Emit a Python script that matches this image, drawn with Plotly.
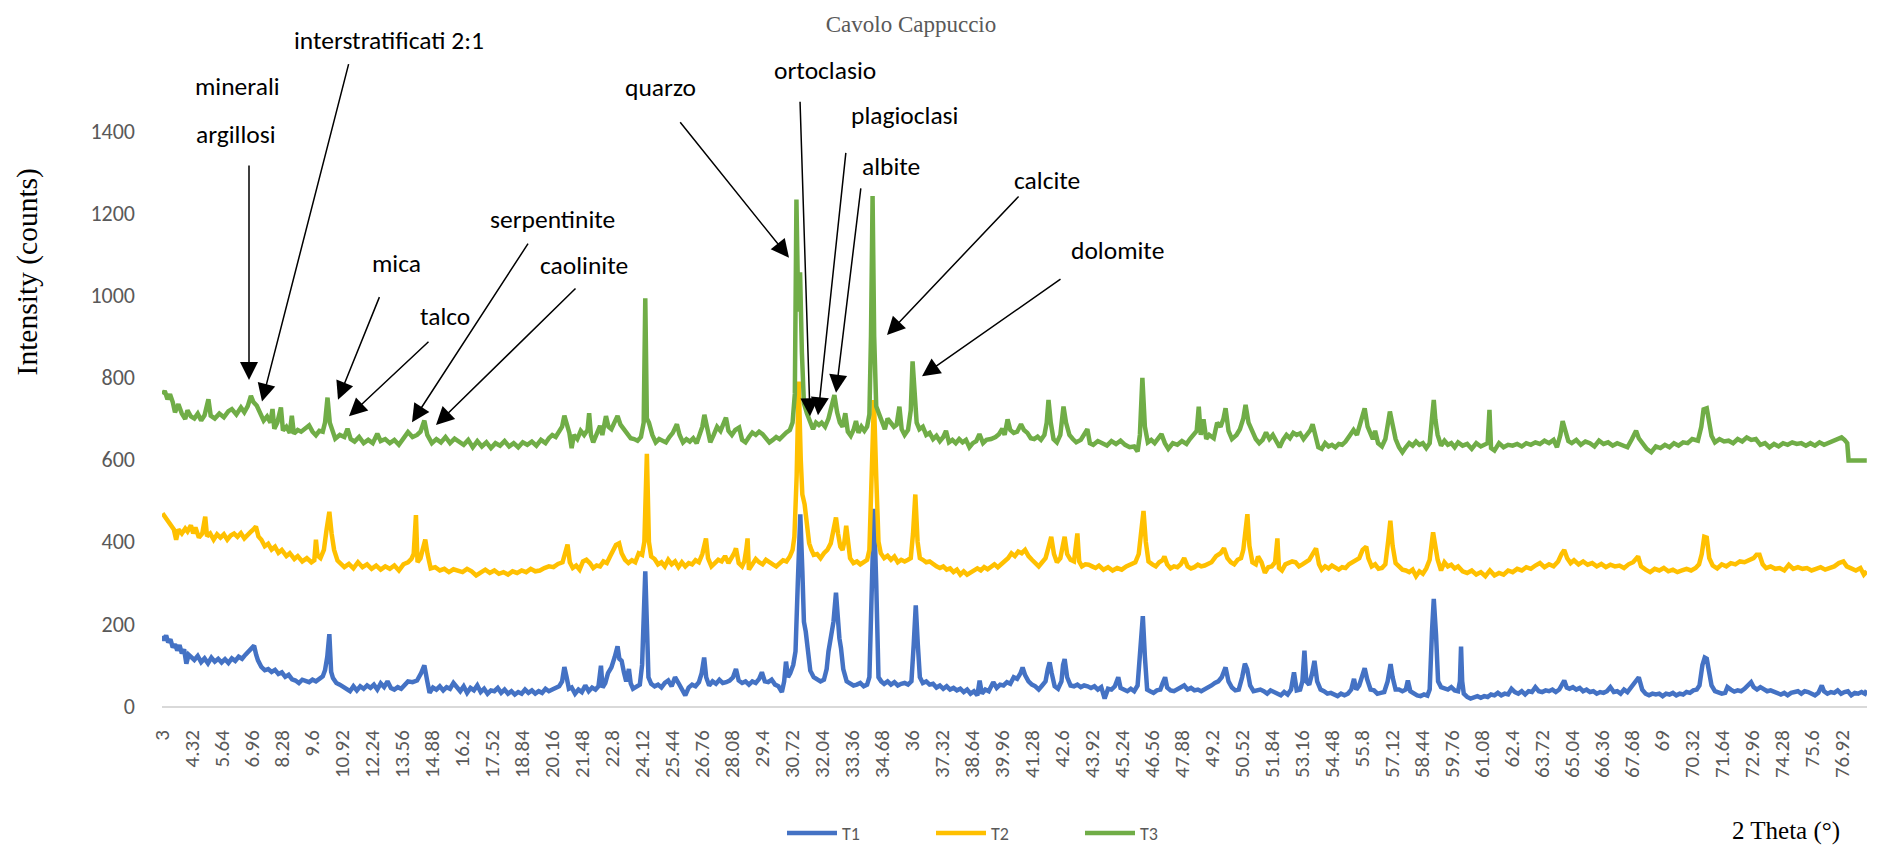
import plotly.graph_objects as go

# ---------------- data (2 Theta [deg], counts) ----------------
T1_points = [
(3.00,171),(3.08,160),(3.16,172),(3.25,155),(3.35,162),(3.45,143),(3.55,150),(3.65,135),(3.75,148),(3.85,128),
(3.95,138),(4.05,103),(4.15,125),(4.25,119),(4.40,112),(4.55,122),(4.70,107),(4.85,116),(5.00,104),(5.15,118),
(5.30,108),(5.45,115),(5.60,106),(5.75,114),(5.90,105),(6.05,116),(6.20,110),(6.35,120),(6.50,115),(6.65,125),
(6.80,135),(6.92,140),(7.03,147),(7.12,125),(7.20,111),(7.35,95),(7.50,87),(7.65,90),(7.80,83),(7.95,88),
(8.10,78),(8.25,82),(8.40,71),(8.55,76),(8.70,65),(8.85,62),(9.00,56),(9.15,64),(9.30,60),(9.45,58),
(9.60,64),(9.75,60),(9.90,66),(10.05,72),(10.15,87),(10.25,120),(10.34,175),(10.42,83),(10.50,68),(10.65,56),
(10.80,52),(10.95,46),(11.10,40),(11.25,36),(11.40,48),(11.55,38),(11.70,48),(11.85,42),(12.00,50),(12.15,44),
(12.30,52),(12.45,40),(12.60,55),(12.75,46),(12.90,60),(13.05,44),(13.20,40),(13.35,46),(13.50,42),(13.65,50),
(13.80,60),(14.00,58),(14.20,62),(14.38,80),(14.52,99),(14.65,60),(14.75,32),(14.90,45),(15.05,40),(15.20,48),
(15.35,38),(15.50,46),(15.65,42),(15.80,56),(15.95,44),(16.10,36),(16.25,48),(16.40,32),(16.55,44),(16.70,38),
(16.85,50),(17.00,34),(17.15,42),(17.30,30),(17.45,38),(17.60,36),(17.75,44),(17.90,32),(18.05,40),(18.20,30),
(18.35,36),(18.50,28),(18.65,34),(18.80,30),(18.95,40),(19.10,32),(19.25,38),(19.40,30),(19.55,36),(19.70,32),
(19.85,42),(20.00,36),(20.15,40),(20.30,45),(20.45,48),(20.58,60),(20.68,95),(20.78,70),(20.88,42),(21.00,45),
(21.15,30),(21.30,40),(21.45,34),(21.60,50),(21.75,36),(21.90,45),(22.05,40),(22.18,48),(22.29,98),(22.36,45),
(22.48,56),(22.60,80),(22.75,94),(22.90,120),(23.02,145),(23.10,115),(23.20,110),(23.30,82),(23.40,60),(23.52,90),
(23.60,55),(23.70,42),(23.85,48),(24.00,52),(24.10,100),(24.17,200),(24.24,328),(24.31,200),(24.38,70),(24.50,54),
(24.65,48),(24.80,52),(24.95,45),(25.10,56),(25.25,62),(25.40,48),(25.55,70),(25.70,56),(25.85,40),(26.00,26),
(26.15,45),(26.30,52),(26.45,48),(26.60,58),(26.72,80),(26.83,118),(26.92,70),(27.05,50),(27.20,60),(27.35,54),
(27.50,64),(27.65,56),(27.80,58),(27.95,62),(28.10,70),(28.23,90),(28.35,62),(28.50,56),(28.65,60),(28.80,52),
(28.95,60),(29.10,56),(29.25,66),(29.37,82),(29.50,60),(29.65,58),(29.80,64),(29.95,52),(30.10,48),(30.25,34),
(30.35,60),(30.43,108),(30.52,70),(30.62,80),(30.75,100),(30.85,133),(30.95,300),(31.06,467),(31.15,330),(31.22,205),
(31.30,181),(31.40,140),(31.50,86),(31.65,70),(31.80,66),(31.95,60),(32.10,64),(32.22,90),(32.30,133),(32.42,180),
(32.52,205),(32.63,276),(32.72,190),(32.78,165),(32.85,141),(32.95,90),(33.10,60),(33.25,54),(33.40,50),(33.55,52),
(33.70,56),(33.85,48),(34.00,52),(34.10,70),(34.20,300),(34.30,480),(34.40,300),(34.50,70),(34.62,60),(34.75,54),
(34.90,60),(35.05,52),(35.20,58),(35.35,50),(35.50,54),(35.65,56),(35.80,52),(35.95,60),(36.05,150),(36.14,245),
(36.23,150),(36.32,70),(36.45,56),(36.60,60),(36.75,52),(36.90,54),(37.05,45),(37.20,50),(37.35,42),(37.50,48),
(37.65,40),(37.80,44),(37.95,38),(38.10,42),(38.25,34),(38.40,40),(38.55,30),(38.70,36),(38.85,26),(38.95,62),
(39.05,30),(39.20,40),(39.35,36),(39.55,58),(39.70,44),(39.85,52),(40.00,50),(40.15,58),(40.30,54),(40.45,70),
(40.60,66),(40.75,80),(40.84,94),(40.95,75),(41.10,60),(41.25,52),(41.40,48),(41.55,40),(41.70,50),(41.85,60),
(41.95,90),(42.03,106),(42.12,80),(42.25,48),(42.40,42),(42.55,60),(42.62,100),(42.69,114),(42.80,70),(42.95,50),
(43.10,48),(43.25,52),(43.40,46),(43.55,50),(43.70,48),(43.85,44),(44.00,48),(44.15,40),(44.30,46),(44.45,18),
(44.60,42),(44.75,40),(44.90,48),(45.05,70),(45.15,44),(45.30,40),(45.45,36),(45.60,42),(45.75,36),(45.90,50),
(46.02,150),(46.13,219),(46.22,120),(46.32,40),(46.45,36),(46.60,32),(46.75,38),(46.90,40),(47.00,55),(47.11,70),
(47.20,45),(47.35,38),(47.50,36),(47.65,40),(47.80,45),(47.95,50),(48.10,40),(48.25,44),(48.40,38),(48.55,40),
(48.70,36),(48.85,40),(49.00,44),(49.15,50),(49.30,56),(49.45,60),(49.60,70),(49.77,94),(49.90,60),(50.05,45),
(50.20,38),(50.35,40),(50.50,70),(50.62,103),(50.72,90),(50.85,50),(51.00,36),(51.15,38),(51.30,40),(51.45,36),
(51.60,30),(51.75,38),(51.90,34),(52.05,30),(52.20,26),(52.35,34),(52.50,28),(52.65,40),(52.78,82),(52.90,38),
(53.05,40),(53.15,60),(53.24,135),(53.32,60),(53.45,52),(53.58,80),(53.68,110),(53.80,60),(53.95,40),(54.10,36),
(54.25,30),(54.40,32),(54.55,28),(54.70,24),(54.85,30),(55.00,26),(55.15,30),(55.30,40),(55.42,66),(55.52,40),
(55.65,50),(55.78,70),(55.89,92),(56.00,65),(56.15,40),(56.30,38),(56.45,30),(56.60,32),(56.75,34),(56.90,60),
(57.03,102),(57.12,70),(57.25,40),(57.40,40),(57.55,36),(57.70,40),(57.79,62),(57.90,36),(58.05,30),(58.20,26),
(58.35,24),(58.50,28),(58.65,25),(58.75,40),(58.85,180),(58.93,261),(59.03,173),(59.12,60),(59.25,46),(59.40,42),
(59.55,40),(59.70,46),(59.85,38),(60.00,36),(60.08,60),(60.13,145),(60.18,60),(60.25,30),(60.40,22),(60.55,18),
(60.70,22),(60.85,24),(61.00,20),(61.15,24),(61.30,22),(61.45,28),(61.60,26),(61.75,32),(61.90,26),(62.05,30),
(62.20,28),(62.35,42),(62.50,34),(62.65,30),(62.80,36),(62.95,28),(63.10,36),(63.25,34),(63.40,46),(63.55,36),
(63.70,34),(63.85,38),(64.00,36),(64.15,40),(64.30,34),(64.45,40),(64.55,50),(64.67,62),(64.78,45),(64.90,42),
(65.05,46),(65.20,40),(65.35,44),(65.50,36),(65.65,40),(65.80,34),(65.95,36),(66.10,30),(66.25,34),(66.40,32),
(66.55,36),(66.70,46),(66.85,34),(67.00,36),(67.15,30),(67.30,40),(67.45,34),(67.60,45),(67.75,58),(67.95,70),
(68.10,40),(68.25,30),(68.40,26),(68.55,30),(68.70,28),(68.85,30),(69.00,24),(69.15,30),(69.30,28),(69.45,32),
(69.60,26),(69.75,30),(69.90,28),(70.05,34),(70.20,32),(70.35,38),(70.50,40),(70.62,50),(70.75,100),(70.85,118),
(70.94,115),(71.05,80),(71.15,50),(71.30,36),(71.45,34),(71.60,30),(71.75,32),(71.85,46),(72.00,40),(72.15,35),
(72.30,38),(72.45,36),(72.60,42),(72.75,50),(72.89,58),(73.00,46),(73.15,40),(73.30,46),(73.45,40),(73.60,36),
(73.75,38),(73.90,34),(74.05,30),(74.20,28),(74.35,32),(74.50,26),(74.65,32),(74.80,34),(74.95,36),(75.10,30),
(75.25,36),(75.40,34),(75.55,30),(75.70,26),(75.85,32),(76.00,50),(76.10,36),(76.25,30),(76.40,34),(76.55,32),
(76.70,38),(76.85,30),(77.00,34),(77.15,36),(77.30,26),(77.45,32),(77.60,30),(77.75,34),(77.90,30),(77.98,38),
]

T2_points = [
(3.00,469),(3.08,462),(3.18,453),(3.28,445),(3.38,437),(3.50,430),(3.60,405),(3.70,430),(3.85,420),(4.00,432),
(4.10,425),(4.25,440),(4.35,420),(4.45,435),(4.60,410),(4.75,420),(4.88,461),(4.96,413),(5.10,420),(5.25,405),
(5.40,418),(5.55,410),(5.70,418),(5.85,405),(6.00,415),(6.15,420),(6.30,412),(6.45,421),(6.60,408),(6.75,418),
(6.90,425),(7.00,430),(7.11,437),(7.22,413),(7.35,405),(7.50,389),(7.65,395),(7.80,381),(7.95,388),(8.10,373),
(8.25,380),(8.45,365),(8.60,372),(8.80,358),(8.95,365),(9.15,352),(9.35,360),(9.55,350),(9.68,355),(9.75,405),
(9.82,366),(9.95,360),(10.10,380),(10.22,430),(10.34,473),(10.44,420),(10.55,380),(10.70,354),(10.85,345),(11.00,338),
(11.20,346),(11.40,335),(11.60,350),(11.80,338),(12.00,345),(12.20,334),(12.40,342),(12.60,332),(12.80,340),(13.00,334),
(13.20,342),(13.40,330),(13.60,345),(13.80,350),(13.95,358),(14.05,370),(14.15,465),(14.22,350),(14.35,360),(14.45,380),
(14.56,405),(14.66,370),(14.80,335),(15.00,338),(15.20,330),(15.40,334),(15.60,326),(15.80,333),(16.00,330),(16.20,326),
(16.40,334),(16.60,328),(16.80,318),(17.00,326),(17.20,332),(17.40,324),(17.60,330),(17.80,322),(18.00,326),(18.20,320),
(18.40,328),(18.60,324),(18.80,330),(19.00,326),(19.20,334),(19.40,328),(19.60,330),(19.80,336),(20.00,340),(20.20,338),
(20.40,346),(20.60,350),(20.72,370),(20.82,393),(20.92,350),(21.05,336),(21.20,342),(21.35,332),(21.50,352),(21.65,356),
(21.80,348),(21.95,336),(22.10,342),(22.25,340),(22.40,352),(22.55,348),(22.70,365),(22.85,380),(22.95,392),(23.09,396),
(23.20,372),(23.35,356),(23.50,348),(23.65,355),(23.80,350),(23.95,372),(24.10,368),(24.20,400),(24.31,614),(24.40,400),
(24.50,364),(24.65,358),(24.80,345),(24.95,350),(25.10,340),(25.25,356),(25.40,345),(25.55,352),(25.70,338),(25.85,350),
(26.00,340),(26.15,348),(26.30,345),(26.45,355),(26.60,350),(26.75,370),(26.85,400),(26.91,408),(27.00,360),(27.15,340),
(27.30,348),(27.45,356),(27.60,352),(27.75,365),(27.90,348),(28.05,360),(28.15,372),(28.23,384),(28.35,348),(28.50,340),
(28.60,352),(28.68,380),(28.74,408),(28.80,332),(28.95,345),(29.10,358),(29.25,350),(29.40,345),(29.55,356),(29.70,352),
(29.85,345),(30.00,340),(30.15,348),(30.30,355),(30.45,352),(30.60,364),(30.72,380),(30.80,412),(30.90,560),(30.99,790),
(31.08,600),(31.15,515),(31.25,491),(31.35,440),(31.45,396),(31.55,380),(31.65,368),(31.80,370),(31.95,360),(32.10,372),
(32.25,380),(32.40,396),(32.52,430),(32.63,459),(32.72,420),(32.82,388),(32.92,380),(33.00,400),(33.08,439),(33.16,410),
(33.25,360),(33.40,348),(33.55,352),(33.70,345),(33.85,350),(34.00,356),(34.10,380),(34.20,560),(34.30,745),(34.40,560),
(34.50,400),(34.60,372),(34.75,360),(34.90,366),(35.05,356),(35.20,364),(35.35,350),(35.50,356),(35.65,352),(35.80,356),
(35.92,360),(36.02,420),(36.12,515),(36.22,400),(36.32,360),(36.45,356),(36.60,350),(36.75,352),(36.90,345),(37.05,340),
(37.20,336),(37.35,340),(37.50,332),(37.65,335),(37.80,326),(37.95,332),(38.10,320),(38.25,328),(38.40,320),(38.55,326),
(38.70,330),(38.85,335),(39.00,330),(39.15,338),(39.30,333),(39.45,340),(39.60,345),(39.75,338),(39.90,345),(40.05,350),
(40.20,360),(40.35,372),(40.50,365),(40.65,376),(40.80,372),(40.95,380),(41.10,365),(41.25,356),(41.40,348),(41.55,340),
(41.70,350),(41.85,360),(41.95,380),(42.10,412),(42.22,370),(42.35,350),(42.50,360),(42.60,390),(42.69,412),(42.80,370),
(42.95,356),(43.10,352),(43.18,380),(43.25,420),(43.33,352),(43.45,340),(43.60,345),(43.75,344),(43.90,340),(44.05,336),
(44.20,342),(44.40,332),(44.60,338),(44.80,330),(45.00,336),(45.20,332),(45.40,340),(45.60,345),(45.80,350),(45.95,370),
(46.06,440),(46.16,475),(46.26,400),(46.38,352),(46.55,345),(46.70,340),(46.85,350),(47.00,355),(47.08,364),(47.20,345),
(47.35,335),(47.50,340),(47.65,338),(47.80,345),(47.95,360),(48.10,340),(48.25,335),(48.40,338),(48.55,344),(48.70,340),
(48.85,342),(49.00,345),(49.15,350),(49.35,365),(49.55,372),(49.70,384),(49.85,360),(50.00,350),(50.15,345),(50.30,356),
(50.45,360),(50.55,380),(50.65,440),(50.73,467),(50.82,390),(50.95,350),(51.10,345),(51.20,364),(51.35,350),(51.50,324),
(51.65,338),(51.80,340),(51.95,350),(52.05,408),(52.12,336),(52.25,330),(52.40,345),(52.55,348),(52.70,352),(52.85,350),
(53.00,340),(53.15,345),(53.30,350),(53.45,356),(53.60,370),(53.75,384),(53.88,345),(54.00,332),(54.15,340),(54.30,335),
(54.45,342),(54.60,338),(54.75,332),(54.90,338),(55.05,336),(55.20,345),(55.35,350),(55.50,356),(55.65,360),(55.80,380),
(55.96,388),(56.05,360),(56.20,340),(56.35,345),(56.50,334),(56.65,336),(56.80,345),(56.92,400),(57.02,451),(57.12,390),
(57.25,348),(57.40,340),(57.55,332),(57.70,330),(57.85,326),(58.00,332),(58.15,316),(58.30,328),(58.45,322),(58.60,335),
(58.75,356),(58.90,423),(59.00,380),(59.10,356),(59.25,330),(59.40,350),(59.55,340),(59.70,344),(59.85,335),(60.00,340),
(60.20,328),(60.40,324),(60.60,330),(60.80,320),(61.00,326),(61.20,316),(61.40,330),(61.60,318),(61.80,324),(62.00,320),
(62.20,330),(62.40,326),(62.60,334),(62.80,330),(63.00,338),(63.20,334),(63.40,342),(63.60,348),(63.80,338),(64.00,345),
(64.20,340),(64.40,352),(64.55,370),(64.67,380),(64.80,360),(64.95,348),(65.10,355),(65.30,345),(65.50,352),(65.70,344),
(65.90,348),(66.10,340),(66.30,346),(66.50,338),(66.70,344),(66.90,340),(67.10,342),(67.30,336),(67.50,345),(67.70,350),
(67.92,364),(68.05,340),(68.25,332),(68.45,326),(68.65,334),(68.85,330),(69.05,336),(69.25,328),(69.45,332),(69.65,326),
(69.85,330),(70.05,334),(70.25,330),(70.45,336),(70.60,345),(70.72,370),(70.83,412),(70.94,410),(71.05,360),(71.20,342),
(71.40,335),(71.60,345),(71.80,340),(72.00,348),(72.20,345),(72.40,352),(72.60,350),(72.80,356),(73.00,360),(73.13,368),
(73.26,368),(73.40,345),(73.55,336),(73.75,340),(73.95,334),(74.15,336),(74.35,330),(74.55,344),(74.75,334),(74.95,338),
(75.15,334),(75.35,336),(75.55,330),(75.75,334),(75.95,338),(76.15,332),(76.35,336),(76.55,340),(76.75,348),(76.95,352),
(77.10,340),(77.30,334),(77.50,330),(77.70,336),(77.85,320),(77.98,328),
]

T3_points = [
(3.00,759),(3.10,767),(3.22,747),(3.33,759),(3.45,740),(3.55,715),(3.70,735),(3.85,712),(4.00,699),(4.10,720),
(4.25,705),(4.40,700),(4.55,712),(4.70,695),(4.85,708),(5.02,747),(5.12,707),(5.30,700),(5.50,712),(5.70,703),
(5.90,718),(6.05,723),(6.25,710),(6.45,727),(6.60,715),(6.75,730),(6.89,755),(7.00,740),(7.15,731),(7.30,712),
(7.45,695),(7.60,705),(7.75,690),(7.84,723),(7.92,675),(8.05,690),(8.21,727),(8.30,671),(8.45,680),(8.60,665),
(8.69,707),(8.78,663),(8.95,672),(9.10,668),(9.30,675),(9.45,683),(9.60,668),(9.75,659),(9.90,670),(10.05,668),
(10.15,690),(10.26,751),(10.36,690),(10.47,668),(10.60,651),(10.80,660),(11.00,655),(11.14,675),(11.28,650),(11.45,644),
(11.65,655),(11.85,640),(12.05,648),(12.25,640),(12.45,663),(12.60,645),(12.80,650),(13.00,640),(13.20,648),(13.40,636),
(13.60,650),(13.80,667),(14.00,655),(14.20,660),(14.35,668),(14.52,695),(14.65,660),(14.85,640),(15.05,650),(15.25,642),
(15.45,655),(15.65,640),(15.85,651),(16.05,645),(16.25,636),(16.45,648),(16.65,630),(16.85,645),(17.05,632),(17.25,642),
(17.45,628),(17.65,640),(17.85,634),(18.05,645),(18.25,632),(18.45,640),(18.65,630),(18.85,642),(19.05,636),(19.25,644),
(19.45,634),(19.65,648),(19.85,640),(20.00,652),(20.15,660),(20.30,655),(20.45,670),(20.58,680),(20.68,707),(20.78,690),
(20.90,665),(21.00,628),(21.10,660),(21.25,650),(21.40,670),(21.55,660),(21.70,672),(21.77,713),(21.85,660),(21.95,642),
(22.10,665),(22.25,682),(22.35,660),(22.51,706),(22.62,680),(22.75,674),(22.88,690),(23.02,706),(23.15,685),(23.30,674),
(23.45,660),(23.60,652),(23.75,650),(23.90,646),(24.05,655),(24.17,690),(24.24,993),(24.31,700),(24.40,690),(24.55,660),
(24.70,642),(24.85,650),(25.00,646),(25.15,642),(25.30,655),(25.45,665),(25.63,686),(25.75,660),(25.90,642),(26.05,650),
(26.20,644),(26.35,652),(26.50,640),(26.65,660),(26.75,680),(26.84,709),(26.95,675),(27.10,642),(27.25,660),(27.40,680),
(27.55,670),(27.68,688),(27.79,702),(27.90,670),(28.05,660),(28.20,672),(28.37,678),(28.50,648),(28.65,642),(28.80,655),
(28.95,666),(29.10,660),(29.25,668),(29.40,662),(29.55,650),(29.70,642),(29.85,648),(30.00,655),(30.15,650),(30.30,660),
(30.45,666),(30.60,672),(30.72,690),(30.82,760),(30.89,1233),(30.97,960),(31.05,1056),(31.13,860),(31.22,737),(31.35,713),
(31.50,690),(31.62,674),(31.75,690),(31.88,684),(32.00,690),(32.15,680),(32.30,700),(32.45,730),(32.56,757),(32.68,715),
(32.80,690),(32.92,680),(33.04,713),(33.15,668),(33.28,658),(33.40,672),(33.51,694),(33.62,665),(33.75,680),(33.88,670),
(34.00,680),(34.10,710),(34.17,900),(34.24,1242),(34.31,900),(34.40,730),(34.52,713),(34.65,690),(34.78,674),(34.90,700),
(35.05,690),(35.18,680),(35.30,685),(35.42,729),(35.52,674),(35.65,660),(35.80,672),(35.92,720),(36.00,839),(36.08,780),
(36.18,690),(36.30,674),(36.45,680),(36.60,660),(36.75,665),(36.90,650),(37.05,658),(37.20,645),(37.35,655),(37.47,670),
(37.60,642),(37.75,648),(37.90,640),(38.05,650),(38.20,642),(38.35,648),(38.50,630),(38.65,640),(38.80,645),(38.94,662),
(39.10,640),(39.25,648),(39.45,650),(39.65,655),(39.80,662),(39.95,675),(40.05,660),(40.18,698),(40.30,672),(40.45,665),
(40.60,668),(40.77,686),(40.90,672),(41.05,665),(41.20,652),(41.35,650),(41.50,656),(41.65,648),(41.80,660),(41.90,690),
(41.98,745),(42.08,690),(42.20,650),(42.35,642),(42.50,660),(42.58,700),(42.64,729),(42.75,690),(42.90,660),(43.05,650),
(43.20,642),(43.40,648),(43.55,660),(43.69,674),(43.80,640),(43.95,636),(44.15,645),(44.35,640),(44.55,634),(44.75,645),
(44.95,638),(45.15,646),(45.35,636),(45.55,630),(45.75,632),(45.90,620),(46.00,660),(46.11,799),(46.22,680),(46.35,642),
(46.50,648),(46.65,640),(46.80,650),(46.95,662),(47.10,640),(47.25,626),(47.45,640),(47.65,636),(47.85,645),(48.05,638),
(48.20,650),(48.35,662),(48.50,670),(48.59,729),(48.68,660),(48.80,698),(48.92,650),(49.05,660),(49.25,652),(49.40,690),
(49.55,680),(49.68,700),(49.77,725),(49.90,670),(50.05,650),(50.25,660),(50.40,674),(50.55,700),(50.65,733),(50.78,690),
(50.95,666),(51.10,650),(51.25,640),(51.40,648),(51.55,666),(51.70,650),(51.85,660),(52.00,642),(52.15,630),(52.30,648),
(52.45,660),(52.60,652),(52.75,665),(52.90,660),(53.05,664),(53.20,650),(53.35,660),(53.50,672),(53.60,686),(53.72,660),
(53.85,630),(54.00,626),(54.15,640),(54.30,632),(54.45,636),(54.60,630),(54.75,638),(54.90,636),(55.05,644),(55.25,660),
(55.40,672),(55.55,660),(55.70,690),(55.89,725),(56.02,680),(56.15,660),(56.25,650),(56.35,670),(56.48,640),(56.65,632),
(56.80,650),(56.92,690),(57.00,717),(57.10,690),(57.25,650),(57.40,630),(57.55,618),(57.70,630),(57.85,640),(58.00,634),
(58.15,644),(58.30,636),(58.45,640),(58.60,628),(58.75,640),(58.85,700),(58.93,745),(59.00,698),(59.10,660),(59.25,634),
(59.40,646),(59.55,636),(59.70,640),(59.85,630),(60.00,642),(60.20,634),(60.40,638),(60.60,626),(60.80,640),(61.00,632),
(61.20,636),(61.30,640),(61.38,721),(61.45,628),(61.60,622),(61.80,640),(62.00,630),(62.20,636),(62.40,634),(62.60,638),
(62.80,632),(63.00,640),(63.20,636),(63.40,642),(63.60,638),(63.80,646),(64.00,640),(64.20,648),(64.35,630),(64.50,660),
(64.60,694),(64.72,670),(64.85,645),(65.00,640),(65.20,648),(65.40,636),(65.60,644),(65.80,640),(66.00,632),(66.20,646),
(66.40,638),(66.60,642),(66.80,634),(67.00,640),(67.20,636),(67.45,630),(67.65,650),(67.83,670),(67.95,652),(68.10,640),
(68.30,626),(68.50,618),(68.70,632),(68.90,628),(69.10,636),(69.30,630),(69.50,640),(69.70,634),(69.90,642),(70.10,640),
(70.30,650),(70.55,646),(70.70,680),(70.80,722),(70.94,725),(71.05,690),(71.15,658),(71.30,642),(71.50,650),(71.70,644),
(71.90,646),(72.10,640),(72.30,650),(72.50,644),(72.70,654),(72.90,648),(73.10,650),(73.30,636),(73.50,640),(73.70,630),
(73.90,638),(74.10,632),(74.30,640),(74.50,636),(74.70,642),(74.90,638),(75.10,640),(75.30,634),(75.50,640),(75.70,634),
(75.90,642),(76.10,636),(76.30,640),(76.50,646),(76.70,650),(76.87,654),(77.00,648),(77.12,640),(77.18,598),(77.98,598),
]

SERIES_NAMES = ["T1", "T2", "T3"]
SERIES_COLORS = ["#4472C4", "#FFC000", "#70AD47"]
SERIES_POINTS = [T1_points, T2_points, T3_points]

# x tick labels every 1.32 degrees, as printed on the chart
X_TICK_LABELS = ["3", "4.32", "5.64", "6.96", "8.28", "9.6", "10.92", "12.24", "13.56", "14.88", "16.2",
                 "17.52", "18.84", "20.16", "21.48", "22.8", "24.12", "25.44", "26.76", "28.08", "29.4",
                 "30.72", "32.04", "33.36", "34.68", "36", "37.32", "38.64", "39.96", "41.28", "42.6",
                 "43.92", "45.24", "46.56", "47.88", "49.2", "50.52", "51.84", "53.16", "54.48", "55.8",
                 "57.12", "58.44", "59.76", "61.08", "62.4", "63.72", "65.04", "66.36", "67.68", "69",
                 "70.32", "71.64", "72.96", "74.28", "75.6", "76.92"]
Y_TICKS = [0, 200, 400, 600, 800, 1000, 1200, 1400]

# annotation labels: (text, text centre px, arrow tail px, arrow tip px)
MINERAL_LABELS = [
    ("minerali", (237, 87), None, None),
    ("argillosi", (236, 136), (249, 171), (249, 387)),
    ("interstratificati 2:1", (389, 40), (349, 70), (262, 409)),
    ("mica", (396, 268), (380, 303), (338, 407)),
    ("talco", (445, 322), (430, 348), (349, 424)),
    ("serpentinite", (552, 223), (529, 250), (412, 430)),
    ("caolinite", (584, 270), (577, 295), (436, 433)),
    ("quarzo", (660, 88), (679, 125), (789, 262)),
    ("ortoclasio", (825, 71), (800, 108), (810, 424)),
    ("plagioclasi", (904, 117), (846, 159), (818, 423)),
    ("albite", (891, 169), (861, 194), (836, 400)),
    ("calcite", (1047, 183), (1020, 201), (887, 341)),
    ("dolomite", (1117, 255), (1062, 285), (922, 383)),
]

# ---------------- layout geometry ----------------
W, H = 1888, 864
ML, MR, MT, MB = 162, 21, 60, 144
PW, PH = W - ML - MR, H - MT - MB
X_RANGE = [2.978, 77.99]
Y_RANGE = [0, 1573]

SANS = "Calibri, Carlito, Lato, 'Open Sans', sans-serif"
SERIF = "'Times New Roman', 'Liberation Serif', serif"


def px_to_paper(px, py):
    return (px - ML) / PW, (H - MB - py) / PH


fig = go.Figure()
for name, color, pts in zip(SERIES_NAMES, SERIES_COLORS, SERIES_POINTS):
    xs = [p[0] for p in pts]
    ys = [p[1] for p in pts]
    fig.add_trace(go.Scatter(x=xs, y=ys, mode="lines", name=name,
                             line=dict(color=color, width=4.5)))

tick_vals = [float(t) for t in X_TICK_LABELS]

annotations = []
for text, tpos, tail, tip in MINERAL_LABELS:
    tx, ty = px_to_paper(*tpos)
    annotations.append(dict(text=text, x=tx, y=ty, xref="paper", yref="paper",
                            showarrow=False, xanchor="center", yanchor="middle",
                            font=dict(family=SANS, size=25.5, color="#000000")))
    if tip is not None:
        ax_, ay_ = px_to_paper(*tip)
        annotations.append(dict(text="", x=ax_, y=ay_, xref="paper", yref="paper",
                                showarrow=True, ax=tail[0] - tip[0], ay=tail[1] - tip[1],
                                axref="pixel", ayref="pixel",
                                arrowhead=2, arrowsize=2.4, arrowwidth=1.5,
                                arrowcolor="#000000", standoff=0, startstandoff=0))

# axis titles
yx, yy = px_to_paper(27, 277)
annotations.append(dict(text="Intensity (counts)", x=yx, y=yy, xref="paper", yref="paper",
                        showarrow=False, textangle=-90, xanchor="center", yanchor="middle",
                        font=dict(family=SERIF, size=29.5, color="#000000")))
xx, xy = px_to_paper(1786, 848)
annotations.append(dict(text="2 Theta (°)", x=xx, y=xy, xref="paper", yref="paper",
                        showarrow=False, xanchor="center", yanchor="middle",
                        font=dict(family=SERIF, size=25, color="#000000")))

lx, ly = px_to_paper(782, 850)

fig.update_layout(
    width=W, height=H,
    margin=dict(l=ML, r=MR, t=MT, b=MB, pad=0),
    paper_bgcolor="white", plot_bgcolor="white",
    title=dict(text="Cavolo Cappuccio", x=911 / W, xref="container", xanchor="center",
               y=1 - 24 / H, yref="container", yanchor="middle",
               font=dict(family=SERIF, size=23, color="#595959")),
    xaxis=dict(range=X_RANGE, tickmode="array", tickvals=tick_vals, ticktext=X_TICK_LABELS,
               tickangle=-90, showgrid=False, zeroline=False,
               showline=True, linecolor="#D9D9D9", linewidth=1.5,
               ticks="", ticklabelstandoff=14,
               tickfont=dict(family=SANS, size=21, color="#595959")),
    yaxis=dict(range=Y_RANGE, tickmode="array", tickvals=Y_TICKS,
               showgrid=False, zeroline=False, showline=False,
               ticks="", ticklabelstandoff=26,
               tickfont=dict(family=SANS, size=22, color="#595959")),
    showlegend=True,
    legend=dict(orientation="h", x=lx, y=ly, xanchor="left", yanchor="middle",
                xref="paper", yref="paper",
                entrywidth=84, entrywidthmode="pixels", itemwidth=50,
                font=dict(family=SANS, size=18, color="#595959"),
                bgcolor="rgba(0,0,0,0)"),
    annotations=annotations,
    hovermode=False,
)

fig.write_html("out.html", include_plotlyjs=True, config={"displayModeBar": False},
               post_script="document.body.style.margin='0';document.body.style.overflow='hidden';")
